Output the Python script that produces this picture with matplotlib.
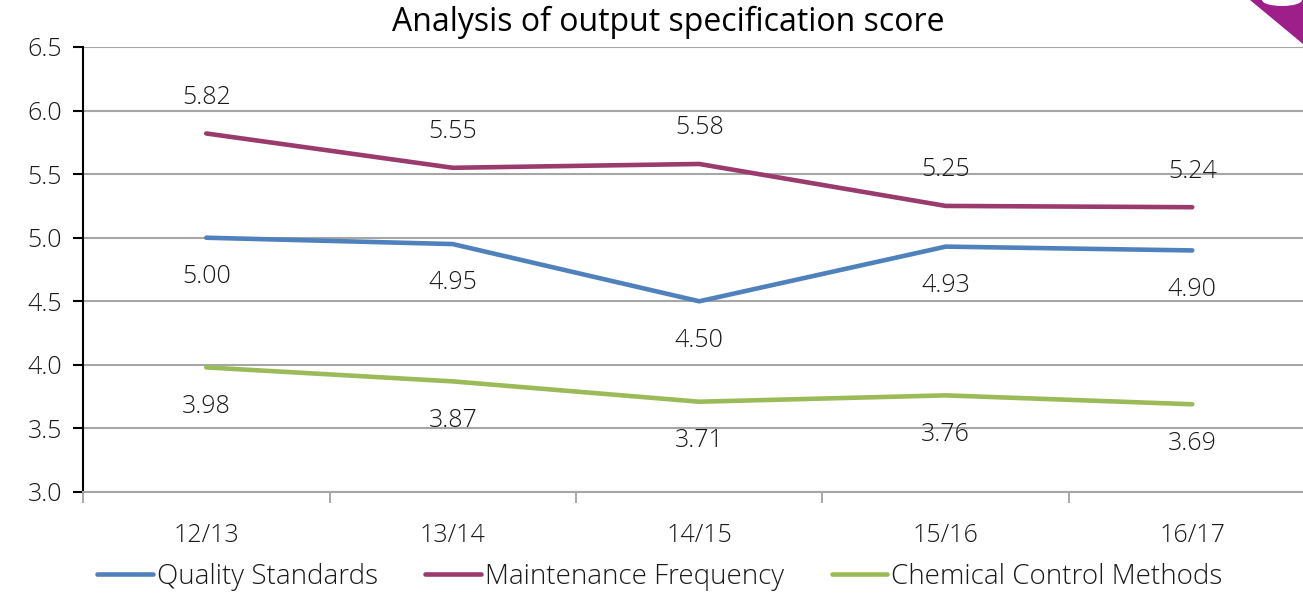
import matplotlib.pyplot as plt
import numpy as np
from matplotlib.patches import Polygon, Ellipse

years = ['12/13', '13/14', '14/15', '15/16', '16/17']
quality = [5.00, 4.95, 4.50, 4.93, 4.90]
maintenance = [5.82, 5.55, 5.58, 5.25, 5.24]
chemical = [3.98, 3.87, 3.71, 3.76, 3.69]

plt.rcParams['font.family'] = ['Open Sans', 'DejaVu Sans']
plt.rcParams['font.weight'] = 'light'

fig = plt.figure(figsize=(13.03, 5.93), dpi=100)
ax = fig.add_axes([83 / 1303, 1 - 492 / 593, 1232.5 / 1303, 445 / 593])

x = np.arange(len(years))
ax.plot(x, quality, color='#4F81BD', lw=3.3, label='Quality Standards', solid_capstyle='round')
ax.plot(x, maintenance, color='#9B3A6C', lw=3.3, label='Maintenance Frequency', solid_capstyle='round')
ax.plot(x, chemical, color='#9BBB59', lw=3.3, label='Chemical Control Methods', solid_capstyle='round')

fs = 18
for i in x:
    ax.annotate(f'{maintenance[i]:.2f}', (i, maintenance[i]), xytext=(0, 26), textcoords='offset points',
                ha='center', va='center', fontsize=fs, color='#1a1a1a')
    ax.annotate(f'{quality[i]:.2f}', (i, quality[i]), xytext=(0, -28), textcoords='offset points',
                ha='center', va='center', fontsize=fs, color='#1a1a1a')
    ax.annotate(f'{chemical[i]:.2f}', (i, chemical[i]), xytext=(0, -28), textcoords='offset points',
                ha='center', va='center', fontsize=fs, color='#1a1a1a')

ax.set_xlim(-0.5, 4.5)
ax.set_ylim(3.0, 6.5)
yt = np.arange(3.0, 6.51, 0.5)
ax.set_yticks(yt)
ax.set_yticklabels([f'{v:.1f}' for v in yt], fontsize=fs, color='#1a1a1a')
ax.set_xticks(x)
ax.set_xticklabels(years, fontsize=fs, color='#1a1a1a')
ax.set_xticks(np.arange(-0.5, 4.6, 1), minor=True)
ax.tick_params(axis='x', which='major', length=0, pad=22)
ax.tick_params(axis='x', which='minor', length=8, color='#999999', width=1.2)
ax.tick_params(axis='y', length=7, width=1.5, color='black', pad=8)
ax.grid(axis='y', color='#a6a6a6', lw=1.5)
ax.set_axisbelow(True)
for s in ['top', 'right']:
    ax.spines[s].set_visible(False)
ax.spines['bottom'].set_color('#a6a6a6')
ax.spines['bottom'].set_linewidth(1.5)
ax.spines['left'].set_linewidth(1.5)

fig.text(0.513, 1 - 22 / 593, 'Analysis of output specification score', ha='center', va='center',
         fontsize=23, fontweight='normal')

fig.legend(loc='center', bbox_to_anchor=(660 / 1303, 1 - 577 / 593), ncol=3, frameon=False, fontsize=20,
           handlelength=2.0, handletextpad=0.15, columnspacing=1.7, labelcolor='#1a1a1a')

# decorative shape top right
fig.patches.append(Polygon([[1250 / 1303, 1.0], [1303 / 1303, 1.0], [1303 / 1303, 1 - 44 / 593]],
                           closed=True, transform=fig.transFigure, facecolor='#9E1F8A', edgecolor='none'))
fig.patches.append(Ellipse((1282 / 1303, 1.0), 40 / 1303, 12 / 593, transform=fig.transFigure,
                           facecolor='white', edgecolor='none'))

fig.savefig('out.png', dpi=100)
